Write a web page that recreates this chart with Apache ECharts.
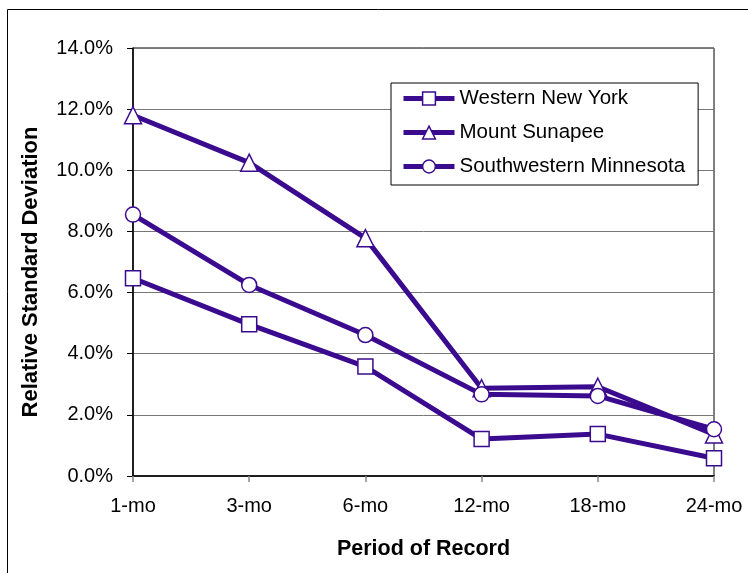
<!DOCTYPE html>
<html>
<head>
<meta charset="utf-8">
<script src="https://cdn.jsdelivr.net/npm/echarts@6/dist/echarts.min.js"></script>
<style>
  html, body { margin: 0; padding: 0; background: #fff; }
  #chart { width: 748px; height: 573px; }
</style>
</head>
<body>
<div id="chart"></div>
<script>
// Period of record categories
const periods = ['1-mo', '3-mo', '6-mo', '12-mo', '18-mo', '24-mo'];

// Relative standard deviation (%) per site
const westernNewYork = [6.47, 4.96, 3.58, 1.21, 1.37, 0.58];
const mountSunapee = [11.8, 10.25, 7.78, 2.87, 2.92, 1.36];
const swMinnesota = [8.55, 6.25, 4.61, 2.67, 2.62, 1.53];

// Y-axis range (%)
const yMin = 0, yMax = 14, yStep = 2;

const LINE = '#3b0b8f';
const FONT = '"Liberation Sans", Arial, sans-serif';

function makeSeries(name, data, symbol, size) {
  return {
    name: name,
    type: 'line',
    data: data,
    symbol: symbol,
    symbolSize: size,
    showAllSymbol: true,
    lineStyle: { color: LINE, width: 5 },
    itemStyle: { color: '#fff', borderColor: LINE, borderWidth: 1.5 },
    emphasis: { disabled: true },
    z: 3
  };
}

const chart = echarts.init(document.getElementById('chart'), null, { renderer: 'canvas' });

chart.setOption({
  animation: false,
  backgroundColor: '#fff',
  graphic: [{
    type: 'rect',
    shape: { x: 7.5, y: 9.5, width: 900, height: 900 },
    style: { fill: 'none', stroke: '#000', lineWidth: 1 },
    silent: true
  }],
  grid: {
    left: 133, right: 34, top: 48, bottom: 97,
    show: true, borderColor: '#000', borderWidth: 1, backgroundColor: 'transparent'
  },
  legend: {
    left: 391, top: 83,
    orient: 'vertical',
    backgroundColor: '#fff',
    borderColor: '#000',
    borderWidth: 1,
    padding: [5, 13, 8, 10],
    itemWidth: 51,
    itemHeight: 16,
    itemGap: 13,
    lineStyle: { width: 5, color: LINE },
    itemStyle: { color: '#fff', borderColor: LINE, borderWidth: 1.5 },
    textStyle: { fontFamily: FONT, fontSize: 20.5, color: '#000' },
    data: ['Western New York', 'Mount Sunapee', 'Southwestern Minnesota']
  },
  xAxis: {
    type: 'category',
    data: periods,
    boundaryGap: false,
    name: 'Period of Record',
    nameLocation: 'middle',
    nameGap: 62,
    nameTextStyle: { fontFamily: FONT, fontSize: 21.5, fontWeight: 'bold', color: '#000' },
    axisLine: { lineStyle: { color: '#000', width: 1.5 } },
    axisTick: { show: true, alignWithLabel: true, length: 6, lineStyle: { color: '#888', width: 1.5 } },
    axisLabel: { fontFamily: FONT, fontSize: 20, color: '#000', margin: 20 },
    splitLine: { show: false }
  },
  yAxis: {
    type: 'value',
    min: yMin, max: yMax, interval: yStep,
    name: 'Relative Standard Deviation',
    nameLocation: 'middle',
    nameRotate: 90,
    nameGap: 91,
    nameTextStyle: { fontFamily: FONT, fontSize: 22, fontWeight: 'bold', color: '#000', padding: [0, 20, 0, 0] },
    axisLine: { show: true, lineStyle: { color: '#000', width: 1.5 } },
    axisTick: { show: true, length: 6, lineStyle: { color: '#000', width: 1 } },
    axisLabel: {
      fontFamily: FONT, fontSize: 20, color: '#000', margin: 20,
      formatter: v => v.toFixed(1) + '%'
    },
    splitLine: { show: true, lineStyle: { color: '#777', width: 1 } }
  },
  series: [
    makeSeries('Western New York', westernNewYork, 'rect', 15),
    makeSeries('Mount Sunapee', mountSunapee, 'triangle', 17),
    makeSeries('Southwestern Minnesota', swMinnesota, 'circle', 15)
  ]
});
</script>
</body>
</html>
